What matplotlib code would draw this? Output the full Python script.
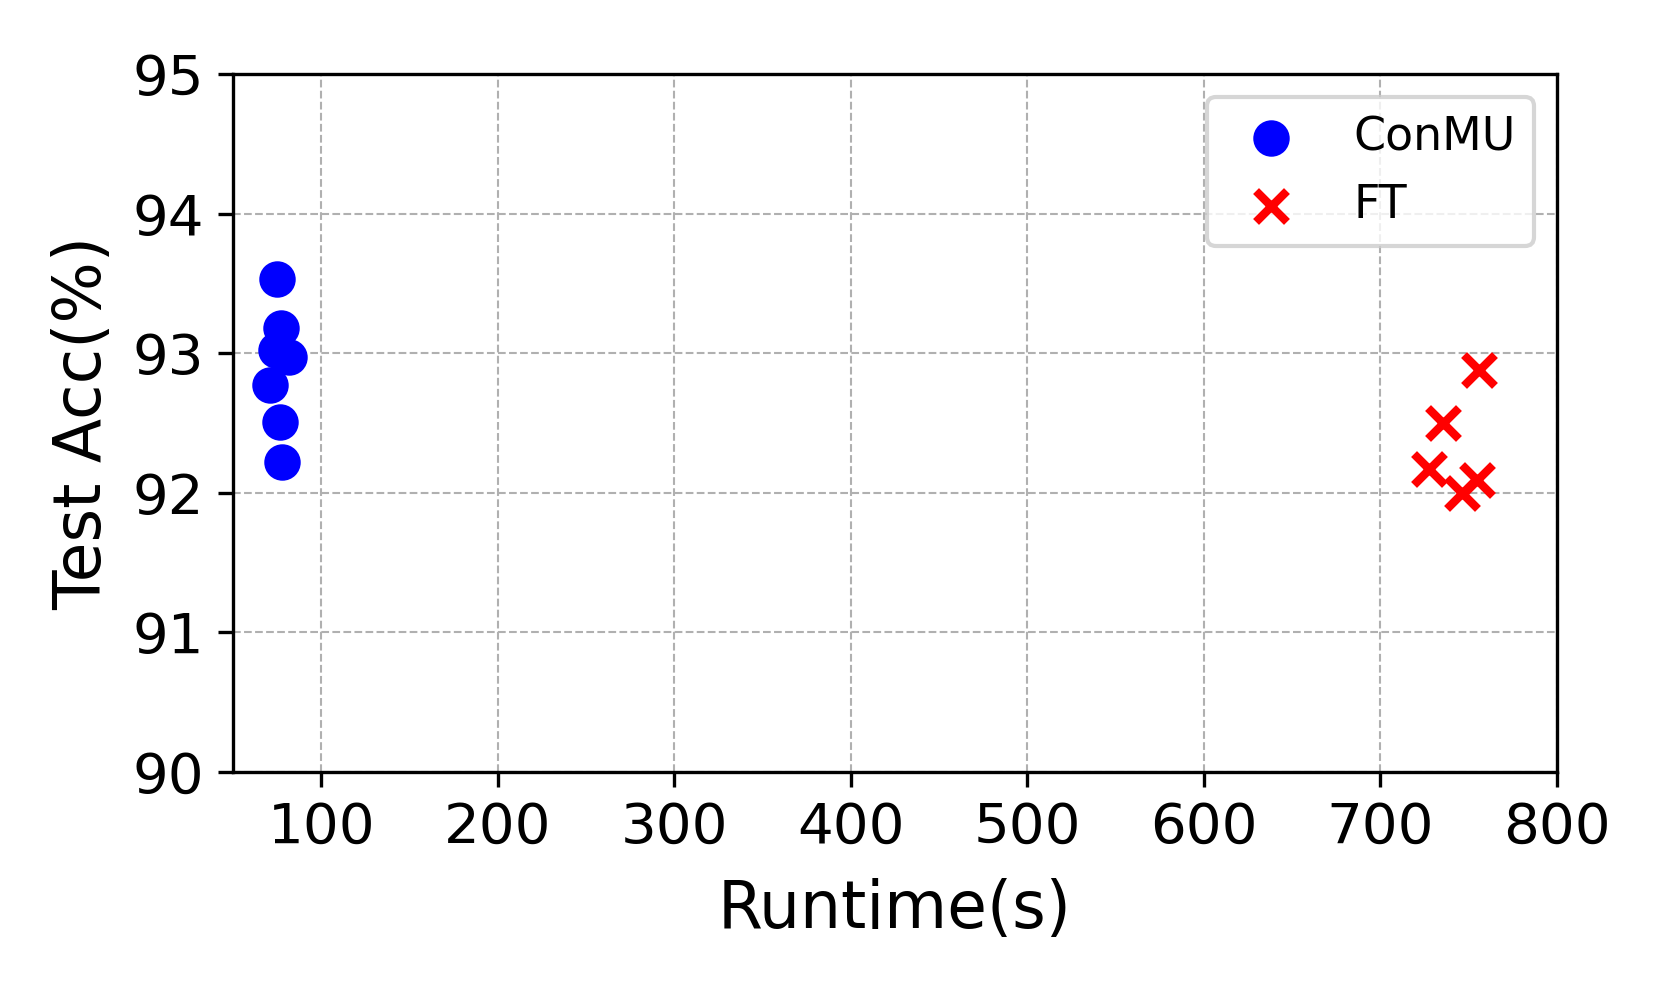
import matplotlib
matplotlib.use("Agg")
import matplotlib.pyplot as plt

# runtime (s) and test accuracy (%)
conmu_runtime = [74.9, 77.2, 74.3, 81.5, 71.1, 76.6, 77.7]
conmu_acc = [93.53, 93.18, 93.02, 92.97, 92.77, 92.51, 92.22]

ft_runtime = [755.9, 735.3, 727.2, 746.1, 754.9]
ft_acc = [92.88, 92.50, 92.17, 92.00, 92.09]

x_ticks = [100, 200, 300, 400, 500, 600, 700, 800]
y_ticks = [90, 91, 92, 93, 94, 95]


def plot() -> None:
    """Scatter of runtime vs test accuracy for ConMU and FT."""
    fig = plt.figure(figsize=(1661 / 300, 997 / 300), dpi=300)
    ax = fig.add_axes([0.1403, 0.2257, 0.7971, 0.7001])
    ax.scatter(conmu_runtime, conmu_acc, color='blue', marker='o', s=60,
               label='ConMU', zorder=3)
    ax.scatter(ft_runtime, ft_acc, color='red', marker='x', s=55,
               linewidths=2, label='FT', zorder=3)
    ax.set_xlim(50, 800)
    ax.set_ylim(90, 95)
    ax.set_xticks(x_ticks)
    ax.set_yticks(y_ticks)
    ax.tick_params(labelsize=13.5)
    ax.set_xlabel('Runtime(s)', fontsize=15.5, labelpad=5.5)
    ax.set_ylabel('Test Acc(%)', fontsize=15.5)
    ax.grid(True, linestyle='--', linewidth=0.5, color='#b0b0b0')
    ax.legend(loc='upper right', fontsize=11)
    fig.savefig('out.png', dpi=300)


if __name__ == "__main__":
    plot()
